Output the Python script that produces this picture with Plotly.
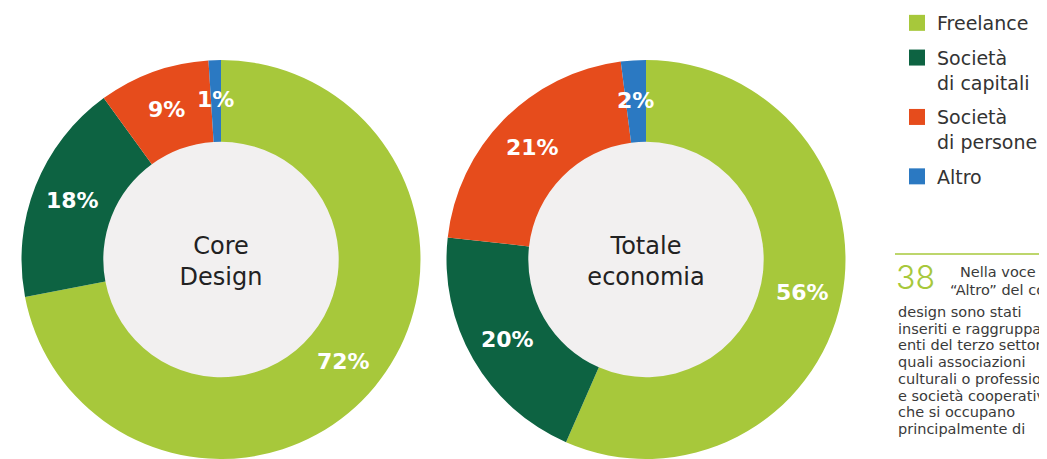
import math
import plotly.graph_objects as go

categories = ["Freelance", "Società di capitali", "Società di persone", "Altro"]
legend_labels = ["Freelance", "Società<br>di capitali", "Società<br>di persone", "Altro"]
core_design = [72, 18, 9, 1]
totale_economia = [56, 20, 21, 2]
colors = ["#a7c83b", "#0d6342", "#e64c1c", "#2b79c2"]

note_num = "38"
note_head = ["Nella voce", "“Altro” del core"]
note_lines = ["design sono stati", "inseriti e raggruppati", "enti del terzo settore",
              "quali associazioni", "culturali o professionali", "e società cooperative",
              "che si occupano", "principalmente di"]

# page body adds an 8px margin, so the figure is sized to end at the window edge
W, H = 1039, 451
FONT = "DejaVu Sans"
HOLE = 0.59

fig = go.Figure()
annotations = []
shapes = []

def donut(vals, title, xdom, ydom):
    fig.add_trace(go.Pie(
        labels=categories, values=vals, sort=False, direction="clockwise", rotation=0,
        hole=HOLE, domain=dict(x=xdom, y=ydom),
        marker=dict(colors=colors, line=dict(width=0)),
        textinfo="none",
        title=dict(text=title, position="middle center",
                   font=dict(family=FONT, size=24, color="#222222")),
        showlegend=False, hoverinfo="label+value",
    ))
    cx = (xdom[0] + xdom[1]) / 2
    cy = (ydom[0] + ydom[1]) / 2
    rpx = min((xdom[1] - xdom[0]) * W, (ydom[1] - ydom[0]) * H) / 2
    # light grey disc showing through the donut hole
    rh = rpx * HOLE + 1
    shapes.append(dict(type="circle", xref="paper", yref="paper", layer="below",
                       x0=cx - rh / W, x1=cx + rh / W, y0=cy - rh / H, y1=cy + rh / H,
                       fillcolor="#f2f0f0", line=dict(width=0)))
    # percentage labels placed on each slice's bisector, inside the ring
    rl = rpx * 0.8
    total = sum(vals)
    cum = 0
    for v in vals:
        mid = (cum + v / 2) / total * 2 * math.pi
        cum += v
        annotations.append(dict(
            x=cx + rl * math.sin(mid) / W, y=cy + rl * math.cos(mid) / H,
            xref="paper", yref="paper", text=f"{v}%", showarrow=False,
            xanchor="center", yanchor="middle",
            font=dict(family=FONT, size=22, color="white", weight="bold")))

YDOM = [0.0, 1 - 52 / H]
donut(core_design, "Core<br>Design", [12 / W, 414 / W], YDOM)
donut(totale_economia, "Totale<br>economia", [437 / W, 839 / W], YDOM)

for lab, col in zip(legend_labels, colors):
    fig.add_trace(go.Scatter(x=[None], y=[None], mode="markers", name=lab, legendgroup=lab,
                             marker=dict(symbol="square", size=30, color=col),
                             showlegend=True))

fig.update_xaxes(visible=False)
fig.update_yaxes(visible=False)

annotations.append(dict(x=886 / W, y=1 - 269 / H, xref="paper", yref="paper", text=note_num,
                        showarrow=False, xanchor="left", yanchor="middle",
                        font=dict(family="Inter", size=32, color="#a7c83b", weight=300)))
for i, t in enumerate(note_head):
    annotations.append(dict(x=(950 - 10 * i) / W, y=1 - (264 + 18 * i) / H, xref="paper", yref="paper",
                            text=t, showarrow=False, xanchor="left", yanchor="middle",
                            font=dict(family=FONT, size=14.5, color="#3a3a3a")))
for i, t in enumerate(note_lines):
    annotations.append(dict(x=888 / W, y=1 - (304 + 16.7 * i) / H, xref="paper", yref="paper",
                            text=t, showarrow=False, xanchor="left", yanchor="middle",
                            font=dict(family=FONT, size=14.5, color="#3a3a3a")))

shapes.append(dict(type="line", xref="paper", yref="paper", x0=887 / W, x1=1.0,
                   y0=1 - 246 / H, y1=1 - 246 / H, line=dict(color="#a7c83b", width=1.5)))

fig.update_layout(
    width=W, height=H,
    margin=dict(l=0, r=0, t=0, b=0, autoexpand=False),
    paper_bgcolor="white", plot_bgcolor="rgba(0,0,0,0)",
    legend=dict(x=889 / W, y=1 + 4 / H, xanchor="left", yanchor="top",
                font=dict(family=FONT, size=19, color="#333333"),
                itemsizing="trace", bgcolor="rgba(0,0,0,0)", tracegroupgap=7,
                valign="top"),
    shapes=shapes,
    annotations=annotations,
)

fig.write_html("out.html")
